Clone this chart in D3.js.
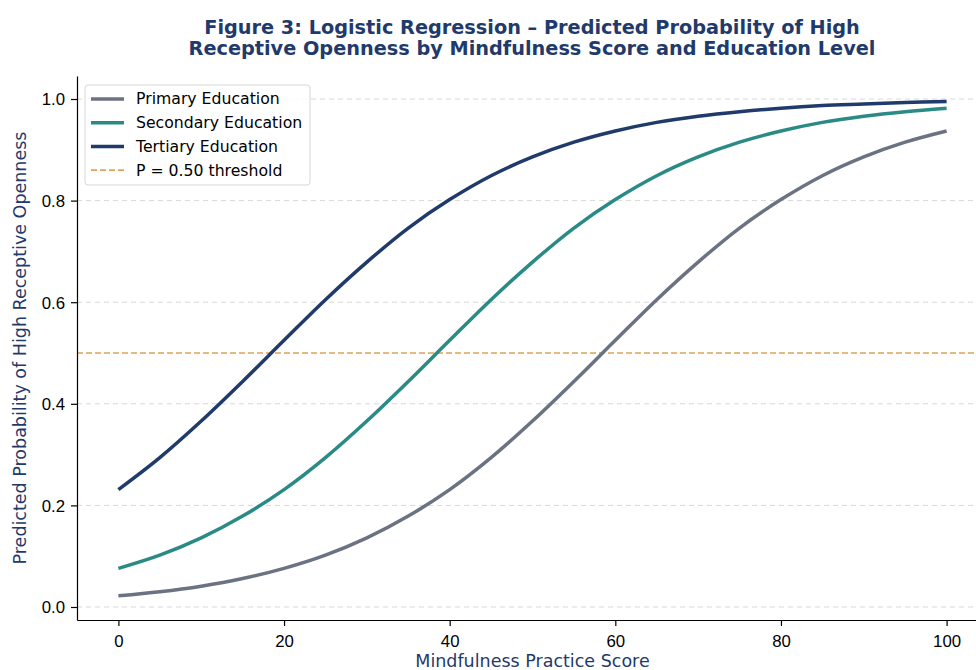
<!DOCTYPE html>
<meta charset="utf-8">
<style>
body { margin: 0; background: #fff; }
svg { font-family: "DejaVu Sans", sans-serif; }
.axis path, .axis line { stroke: #000; stroke-width: 1.2; }
.axis text { font-size: 16.8px; fill: #000; }
.grid line { stroke: #d8d8d8; stroke-dasharray: 5,4; stroke-width: 1; }
</style>
<svg width="976" height="670"></svg>
<script src="https://d3js.org/d3.v7.min.js"></script>
<script>

// mindfulness score (x) at every 5 points
var scores = [0,5,10,15,20,25,30,35,40,45,50,55,60,65,70,75,80,85,90,95,100];

// predicted probability
var primary   = [0.022,0.030,0.041,0.056,0.076,0.102,0.136,0.179,0.231,0.294,0.366,0.444,0.525,0.605,0.679,0.746,0.802,0.849,0.886,0.915,0.937];
var secondary = [0.076,0.102,0.136,0.179,0.231,0.294,0.366,0.444,0.525,0.605,0.679,0.746,0.802,0.849,0.886,0.915,0.937,0.954,0.966,0.975,0.982];
var tertiary  = [0.231,0.294,0.366,0.444,0.525,0.605,0.679,0.746,0.802,0.849,0.886,0.915,0.937,0.954,0.966,0.975,0.982,0.987,0.990,0.993,0.995];

var seriesNames = ["Primary Education", "Secondary Education", "Tertiary Education"];
var seriesColors = ["#6b7282", "#2a8a86", "#1f3a6b"];
var threshold = 0.5;

var xTicks = [0, 20, 40, 60, 80, 100];
var yTicks = [0.0, 0.2, 0.4, 0.6, 0.8, 1.0];

var svg = d3.select("svg");

// axes box (right side runs off the image, as in the original)
var box = {left: 77, right: 988, top: 76, bottom: 620};

var x = d3.scaleLinear().domain([-5, 105]).range([box.left, box.right]);
var y = d3.scaleLinear().domain([-0.0256, 1.0453]).range([box.bottom, box.top]);

// grid
svg.append("g").attr("class", "grid")
  .selectAll("line").data(yTicks).enter().append("line")
  .attr("x1", box.left).attr("x2", box.right)
  .attr("y1", function(d) { return y(d); })
  .attr("y2", function(d) { return y(d); });

// threshold line
svg.append("line")
  .attr("x1", box.left).attr("x2", box.right)
  .attr("y1", y(threshold)).attr("y2", y(threshold))
  .attr("stroke", "#dda35a").attr("stroke-width", 1.6)
  .attr("stroke-dasharray", "6,3");

var line = d3.line()
  .x(function(d) { return x(d[0]); })
  .y(function(d) { return y(d[1]); })
  .curve(d3.curveCatmullRom);

[primary, secondary, tertiary].forEach(function(vals, i) {
  svg.append("path")
    .datum(scores.map(function(s, j) { return [s, vals[j]]; }))
    .attr("fill", "none")
    .attr("stroke", seriesColors[i])
    .attr("stroke-width", 3.5)
    .attr("d", line);
});

// axes
svg.append("g").attr("class", "axis")
  .attr("transform", "translate(0," + box.bottom + ")")
  .call(d3.axisBottom(x).tickValues(xTicks).tickSize(6).tickPadding(6).tickSizeOuter(0))
  .selectAll("text").attr("dy", "0.9em");

svg.append("g").attr("class", "axis")
  .attr("transform", "translate(" + box.left + ",0)")
  .call(d3.axisLeft(y).tickValues(yTicks).tickFormat(d3.format(".1f")).tickSize(6).tickPadding(6).tickSizeOuter(0))
  .selectAll("text").attr("dy", "0.35em");

// axis labels
svg.append("text")
  .attr("x", (box.left + box.right) / 2).attr("y", 667)
  .attr("text-anchor", "middle")
  .attr("font-size", 17.5).attr("fill", "#1f3a6b")
  .text("Mindfulness Practice Score");

svg.append("text")
  .attr("transform", "translate(26," + (box.top + box.bottom) / 2 + ") rotate(-90)")
  .attr("text-anchor", "middle")
  .attr("font-size", 17.5).attr("fill", "#1f3a6b")
  .text("Predicted Probability of High Receptive Openness");

// title
var title = svg.append("text")
  .attr("text-anchor", "middle")
  .attr("font-size", 19.3).attr("font-weight", "bold").attr("fill", "#1f3a6b");
title.append("tspan").attr("x", 532).attr("y", 34)
  .text("Figure 3: Logistic Regression \u2013 Predicted Probability of High");
title.append("tspan").attr("x", 532).attr("y", 55)
  .text("Receptive Openness by Mindfulness Score and Education Level");

// legend
var legend = svg.append("g").attr("transform", "translate(85,85)");
legend.append("rect")
  .attr("width", 225).attr("height", 100).attr("rx", 3)
  .attr("fill", "#fff").attr("fill-opacity", 0.85)
  .attr("stroke", "#d6d6d6");

var legendItems = seriesNames.map(function(n, i) {
  return { name: n, color: seriesColors[i], dash: null, w: 3.5 };
});
legendItems.push({ name: "P = 0.50 threshold", color: "#dda35a", dash: "6,3", w: 1.6 });

legendItems.forEach(function(d, i) {
  var ly = 14 + i * 23.7;
  legend.append("line")
    .attr("x1", 6).attr("x2", 39).attr("y1", ly).attr("y2", ly)
    .attr("stroke", d.color).attr("stroke-width", d.w)
    .attr("stroke-dasharray", d.dash);
  legend.append("text")
    .attr("x", 51).attr("y", ly).attr("dy", "0.35em")
    .attr("font-size", 15.7).attr("fill", "#000")
    .text(d.name);
});

</script>
